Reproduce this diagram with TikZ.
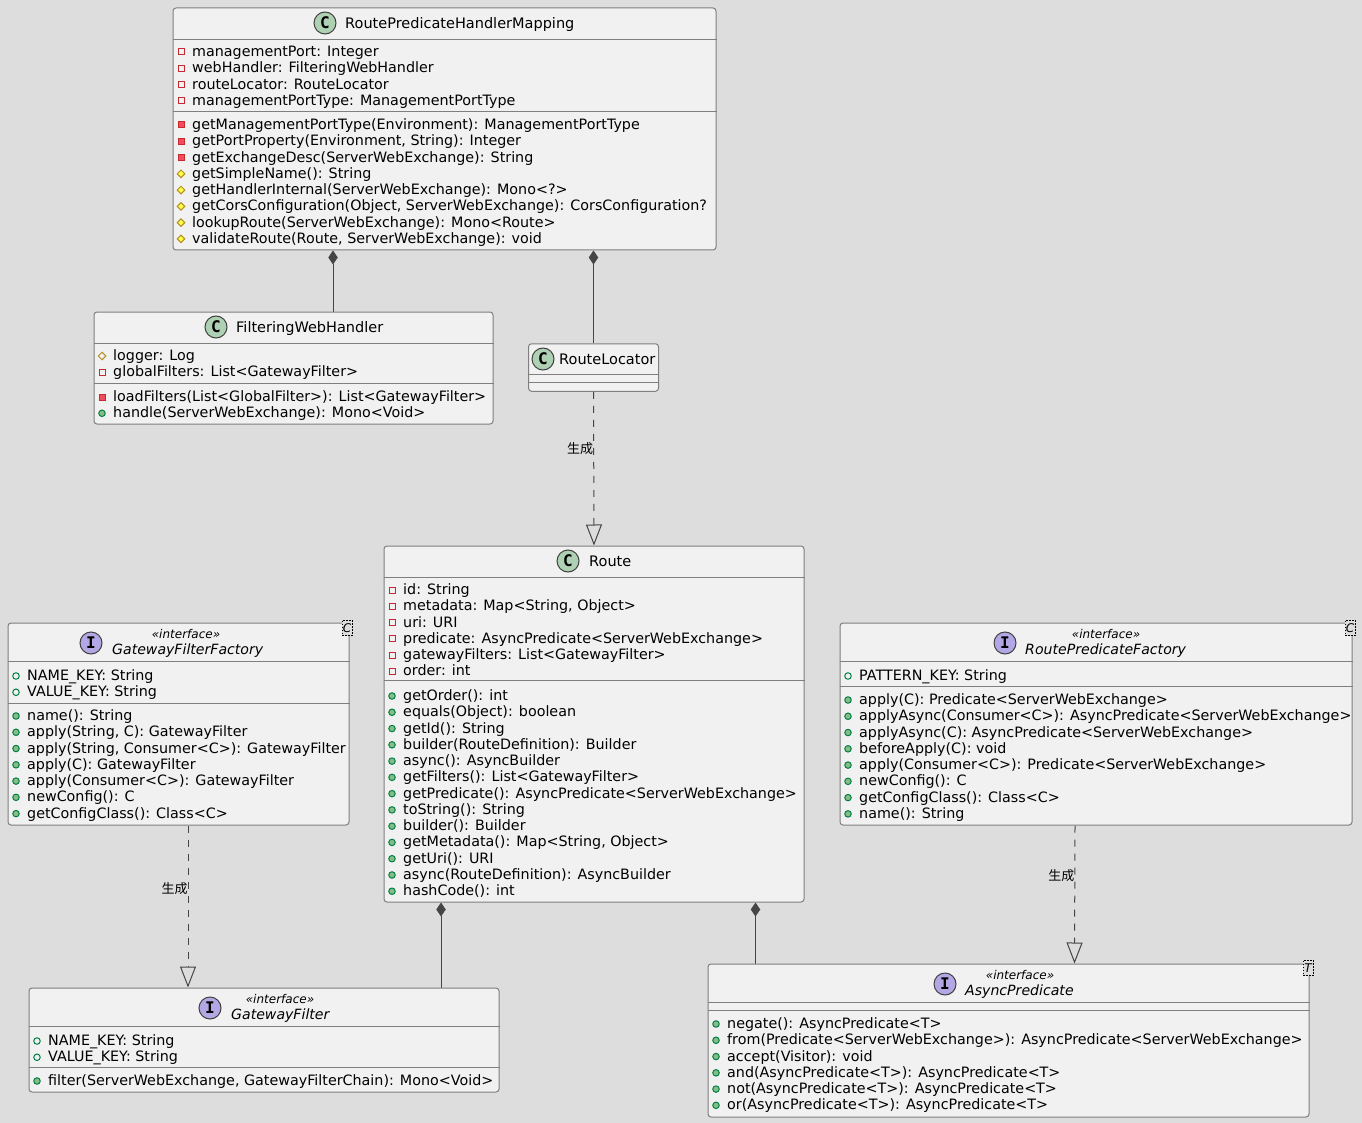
\documentclass[tikz,border=0pt]{standalone}
\usepackage{fontspec}
\setmainfont{DejaVu Sans}
\newfontfamily\cjk{Noto Sans CJK SC}
\newfontfamily\iconfont{DejaVu Sans Mono}
\usetikzlibrary{arrows.meta,shapes.geometric}
\pgfdeclarelayer{bg}
\pgfsetlayers{bg,main}
\definecolor{paper}{HTML}{DDDDDD}
\definecolor{boxfill}{HTML}{F1F1F1}
\definecolor{boxline}{HTML}{7F7F7F}
\definecolor{wire}{HTML}{454545}
\tikzset{
    classbox/.style={draw=boxline, fill=boxfill, line width=1pt, rounded corners=3pt, inner sep=0pt},
    sepline/.style={draw=boxline, line width=1pt},
    rowtext/.style={anchor=base west, inner sep=0pt, font=\fontsize{14.3}{16}\selectfont},
    titletext/.style={anchor=base west, inner sep=0pt, font=\fontsize{14.5}{16}\selectfont},
    abstext/.style={anchor=base west, inner sep=0pt, font=\fontsize{14.1}{16}\selectfont\itshape},
    stereo/.style={anchor=base, inner sep=0pt, font=\fontsize{12}{14}\selectfont\itshape},
    cicon/.style={circle, draw=black!75, fill={rgb,255:red,173;green,209;blue,178}, line width=1pt, minimum size=22pt, inner sep=0pt, font=\iconfont\bfseries\fontsize{16}{16}\selectfont},
    iicon/.style={cicon, fill={rgb,255:red,180;green,167;blue,229}},
    tmpl/.style={draw=black, fill=paper, line width=.6pt, dash pattern=on 1.5pt off 1.5pt, inner sep=0pt, minimum width=10pt, minimum height=15.5pt, font=\fontsize{12}{14}\selectfont\itshape},
    fpriv/.style={rectangle, draw={rgb,255:red,200;green,41;blue,48}, line width=1pt, minimum size=6pt, inner sep=0pt},
    mpriv/.style={fpriv, fill={rgb,255:red,242;green,77;blue,92}},
    fprot/.style={diamond, draw={rgb,255:red,179;green,141;blue,34}, line width=1pt, minimum size=8pt, inner sep=0pt},
    mprot/.style={fprot, fill={rgb,255:red,255;green,255;blue,68}},
    fpub/.style={circle, draw={rgb,255:red,3;green,128;blue,72}, line width=1pt, minimum size=6.5pt, inner sep=0pt},
    mpub/.style={fpub, fill={rgb,255:red,132;green,190;blue,132}},
    compo/.style={draw=wire, line width=1pt, {Diamond[length=14pt, width=9.5pt, fill=wire]}-},
    gener/.style={draw=wire, line width=1pt, dash pattern=on 7pt off 7pt, -{Triangle[open, length=21pt, width=16pt]}},
    genlabel/.style={left, inner sep=0pt, font=\cjk\fontsize{13}{15}\selectfont}
}
\newcommand{\rowlist}[4]{
  \foreach \kind/\txt [count=\i] in {#4} {
    \pgfmathsetmacro\rowy{#3+(\i-1)*16.27}
    \node[\kind] (#1i\i) at (#2-11,\rowy-4) {};
    \node[rowtext] (#1t\i) at (#2,\rowy+.5) {\txt};
  }
}
\newcommand{\cutline}[2]{
  \draw[sepline] ([yshift=-#2pt]#1.north west) -- ([yshift=-#2pt]#1.north east);
}
\begin{document}
\begin{tikzpicture}[x=1pt, y=-1pt]
  \useasboundingbox (0,0) rectangle (1362,1123);
  \begin{pgfonlayer}{bg}
    \fill[paper] (0,0) rectangle (1362,1123);
  \end{pgfonlayer}

  % boxes
  \node[classbox, minimum width=543pt, minimum height=242pt] (mapping) at (444.5,129) {};
  \node[classbox, minimum width=399pt, minimum height=112pt] (filtering) at (293.5,368) {};
  \node[classbox, minimum width=130pt, minimum height=47.5pt] (locator) at (593.5,367.5) {};
  \node[classbox, minimum width=420pt, minimum height=356pt] (route) at (594,724) {};
  \node[classbox, minimum width=341pt, minimum height=202pt] (factory) at (178.5,724) {};
  \node[classbox, minimum width=512pt, minimum height=202pt] (predfactory) at (1096,724) {};
  \node[classbox, minimum width=470pt, minimum height=104pt] (filter) at (264,1040) {};
  \node[classbox, minimum width=601pt, minimum height=153pt] (async) at (1008.5,1040.5) {};

  % headers
  \node[cicon] (mappingc) at (325,23) {C};
  \node[titletext] (mappingn) at (345,28.5) {RoutePredicateHandlerMapping};
  \node[cicon] (filteringc) at (216,327) {C};
  \node[titletext] (filteringn) at (236,332.5) {FilteringWebHandler};
  \node[cicon] (locatorc) at (543,359) {C};
  \node[titletext] (locatorn) at (559,364.5) {RouteLocator};
  \node[cicon] (routec) at (568,561) {C};
  \node[titletext] (routen) at (589,566.5) {Route};

  \node[iicon] (factoryc) at (91,643) {I};
  \node[stereo] (factorys) at (186,638) {«interface»};
  \node[abstext] (factoryn) at (112,654) {GatewayFilterFactory};
  \node[tmpl] (factoryT) at (347,628) {C};

  \node[iicon] (predfactoryc) at (1005,643) {I};
  \node[stereo] (predfactorys) at (1106,638) {«interface»};
  \node[abstext] (predfactoryn) at (1025,654) {RoutePredicateFactory};
  \node[tmpl] (predfactoryT) at (1350,628) {C};

  \node[iicon] (filterc) at (210,1008) {I};
  \node[stereo] (filters) at (280,1003) {«interface»};
  \node[abstext] (filtern) at (231,1019) {GatewayFilter};

  \node[iicon] (asyncc) at (945,984) {I};
  \node[stereo] (asyncs) at (1020,979) {«interface»};
  \node[abstext] (asyncn) at (965,995) {AsyncPredicate};
  \node[tmpl] (asyncT) at (1308,968) {T};

  % separators
  \cutline{mapping}{32} \cutline{mapping}{104}
  \cutline{filtering}{32} \cutline{filtering}{72}
  \cutline{locator}{31.5} \cutline{locator}{39.5}
  \cutline{route}{32} \cutline{route}{135}
  \cutline{factory}{39} \cutline{factory}{81}
  \cutline{predfactory}{39} \cutline{predfactory}{64}
  \cutline{filter}{39} \cutline{filter}{80}
  \cutline{async}{39} \cutline{async}{47}

  % members
  \rowlist{mf}{192}{56}{fpriv/managementPort: Integer, fpriv/webHandler: FilteringWebHandler,
    fpriv/routeLocator: RouteLocator, fpriv/managementPortType: ManagementPortType}
  \rowlist{mm}{192}{129}{mpriv/getManagementPortType(Environment): ManagementPortType,
    mpriv/{getPortProperty(Environment, String): Integer},
    mpriv/getExchangeDesc(ServerWebExchange): String,
    mprot/getSimpleName(): String,
    mprot/getHandlerInternal(ServerWebExchange): Mono<?>,
    mprot/{getCorsConfiguration(Object, ServerWebExchange): CorsConfiguration?},
    mprot/lookupRoute(ServerWebExchange): Mono<Route>,
    mprot/{validateRoute(Route, ServerWebExchange): void}}

  \rowlist{ff}{113}{360}{fprot/logger: Log, fpriv/globalFilters: List<GatewayFilter>}
  \rowlist{fm}{113}{401}{mpriv/loadFilters(List<GlobalFilter>): List<GatewayFilter>,
    mpub/handle(ServerWebExchange): Mono<Void>}

  \rowlist{rf}{403}{594}{fpriv/id: String, fpriv/{metadata: Map<String, Object>}, fpriv/uri: URI,
    fpriv/predicate: AsyncPredicate<ServerWebExchange>,
    fpriv/gatewayFilters: List<GatewayFilter>, fpriv/order: int}
  \rowlist{rm}{403}{700}{mpub/getOrder(): int, mpub/equals(Object): boolean, mpub/getId(): String,
    mpub/builder(RouteDefinition): Builder, mpub/async(): AsyncBuilder,
    mpub/getFilters(): List<GatewayFilter>,
    mpub/getPredicate(): AsyncPredicate<ServerWebExchange>,
    mpub/toString(): String, mpub/builder(): Builder,
    mpub/{getMetadata(): Map<String, Object>}, mpub/getUri(): URI,
    mpub/async(RouteDefinition): AsyncBuilder, mpub/hashCode(): int}

  \rowlist{gf}{27}{680}{fpub/NAME\_KEY: String, fpub/VALUE\_KEY: String}
  \rowlist{gm}{27}{720}{mpub/name(): String, mpub/{apply(String, C): GatewayFilter},
    mpub/{apply(String, Consumer<C>): GatewayFilter}, mpub/apply(C): GatewayFilter,
    mpub/apply(Consumer<C>): GatewayFilter, mpub/newConfig(): C,
    mpub/getConfigClass(): Class<C>}

  \rowlist{pf}{859}{680}{fpub/PATTERN\_KEY: String}
  \rowlist{pm}{859}{704}{mpub/apply(C): Predicate<ServerWebExchange>,
    mpub/applyAsync(Consumer<C>): AsyncPredicate<ServerWebExchange>,
    mpub/applyAsync(C): AsyncPredicate<ServerWebExchange>,
    mpub/beforeApply(C): void,
    mpub/apply(Consumer<C>): Predicate<ServerWebExchange>,
    mpub/newConfig(): C, mpub/getConfigClass(): Class<C>, mpub/name(): String}

  \rowlist{lf}{48}{1045}{fpub/NAME\_KEY: String, fpub/VALUE\_KEY: String}
  \rowlist{lm}{48}{1085}{mpub/{filter(ServerWebExchange, GatewayFilterChain): Mono<Void>}}

  \rowlist{am}{727}{1028}{mpub/negate(): AsyncPredicate<T>,
    mpub/from(Predicate<ServerWebExchange>): AsyncPredicate<ServerWebExchange>,
    mpub/accept(Visitor): void, mpub/and(AsyncPredicate<T>): AsyncPredicate<T>,
    mpub/not(AsyncPredicate<T>): AsyncPredicate<T>,
    mpub/or(AsyncPredicate<T>): AsyncPredicate<T>}

  % connectors
  \begin{pgfonlayer}{bg}
    \draw[compo] ([xshift=-111.5pt]mapping.south) -- ([xshift=39.5pt]filtering.north);
    \draw[compo] ([xshift=149pt]mapping.south) -- (locator.north);
    \draw[compo] ([xshift=-153pt]route.south) -- ([xshift=177pt]filter.north);
    \draw[compo] ([xshift=161.5pt]route.south) -- ([xshift=-253pt]async.north);
    \draw[gener] (locator.south) -- node[genlabel, pos=.37] (lab1) {生成} (route.north);
    \draw[gener] ([xshift=9.5pt]factory.south) -- node[genlabel, pos=.39] (lab2) {生成} ([xshift=-76pt]filter.north);
    \draw[gener] ([xshift=-21pt]predfactory.south) -- node[genlabel, pos=.36] (lab3) {生成} ([xshift=66pt]async.north);
  \end{pgfonlayer}
\end{tikzpicture}
\end{document}
